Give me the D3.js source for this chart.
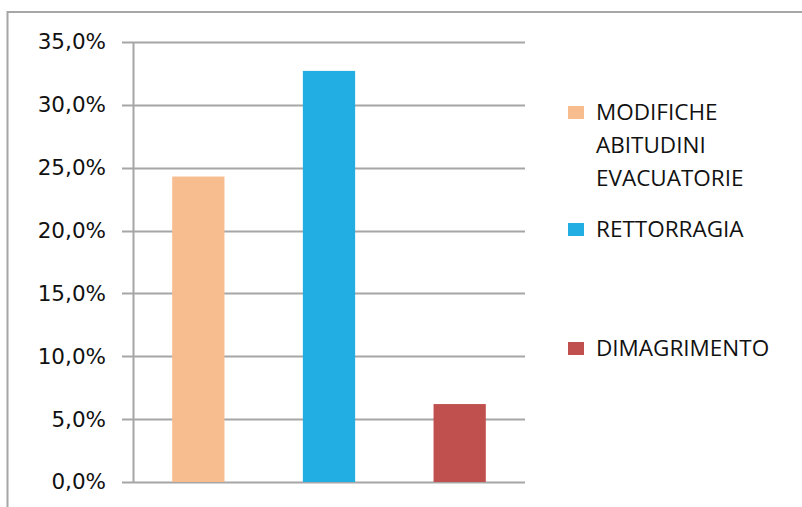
<!DOCTYPE html>
<html>
<head>
<meta charset="utf-8">
<script src="https://cdn.jsdelivr.net/npm/d3@7"></script>
<style>
  html, body { margin: 0; padding: 0; background: #fff; }
  svg { display: block; }
</style>
</head>
<body>
<svg id="chart" width="802" height="507"></svg>
<script>
const categories = ["MODIFICHE ABITUDINI EVACUATORIE", "RETTORRAGIA", "DIMAGRIMENTO"];
const values = [24.3, 32.7, 6.2];
const colors = ["#F8BD8F", "#22ADE3", "#C0504D"];
const legendLines = [["MODIFICHE", "ABITUDINI", "EVACUATORIE"], ["RETTORRAGIA"], ["DIMAGRIMENTO"]];
const yTicks = [0, 5, 10, 15, 20, 25, 30, 35];

const svg = d3.select("#chart");

// outer frame
svg.append("rect")
  .attr("x", 7.5).attr("y", 12).attr("width", 800).attr("height", 510)
  .attr("fill", "none").attr("stroke", "#A6A6A6").attr("stroke-width", 2);

const plot = { left: 133, right: 525, top: 42, bottom: 482 };

const x = d3.scaleBand()
  .domain(categories)
  .range([plot.left, plot.right])
  .paddingInner(0.6)
  .paddingOuter(0.3);

const y = d3.scaleLinear().domain([0, 35]).range([plot.bottom, plot.top]);

// gridlines
svg.append("g")
  .selectAll("line")
  .data(yTicks)
  .join("line")
  .attr("x1", plot.left - 11).attr("x2", plot.right)
  .attr("y1", d => Math.round(y(d)) + 0.5).attr("y2", d => Math.round(y(d)) + 0.5)
  .attr("stroke", "#A6A6A6").attr("stroke-width", 2);

// y axis
const yAxis = d3.axisLeft(y)
  .tickValues(yTicks)
  .tickSize(0)
  .tickPadding(27)
  .tickFormat(d => d3.format(".1f")(d).replace(".", ",") + "%");

const gy = svg.append("g").attr("transform", `translate(${plot.left},0)`).call(yAxis);
gy.select(".domain").attr("stroke", "#A6A6A6").attr("stroke-width", 2);
gy.selectAll("text")
  .attr("font-family", "DejaVu Sans, Verdana, sans-serif")
  .attr("font-size", 21.5)
  .attr("fill", "#111");

// bars
svg.append("g")
  .selectAll("rect")
  .data(categories)
  .join("rect")
  .attr("x", d => x(d))
  .attr("width", x.bandwidth())
  .attr("y", (d, i) => y(values[i]))
  .attr("height", (d, i) => y(0) - y(values[i]))
  .attr("fill", (d, i) => colors[i]);

// legend
const legendX = 568;
const legendBaselines = [120, 237, 356];
const lg = svg.append("g");
legendLines.forEach((lines, i) => {
  lg.append("rect")
    .attr("x", legendX).attr("y", legendBaselines[i] - 14)
    .attr("width", 16).attr("height", 13)
    .attr("fill", colors[i]);
  const t = lg.append("text")
    .attr("x", legendX + 28).attr("y", legendBaselines[i])
    .attr("font-family", "Open Sans, Carlito, sans-serif")
    .attr("font-size", 22.5)
    .attr("fill", "#111");
  lines.forEach((ln, j) => {
    t.append("tspan").attr("x", legendX + 28).attr("dy", j === 0 ? 0 : 33).text(ln);
  });
});
</script>
</body>
</html>
